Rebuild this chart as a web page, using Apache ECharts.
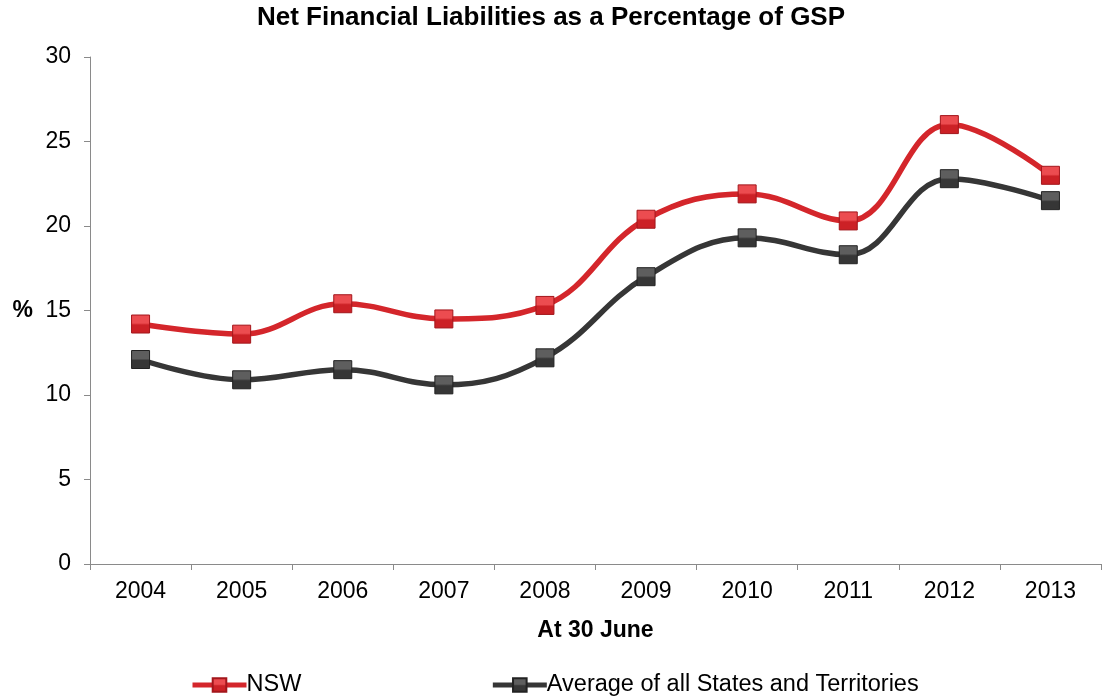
<!DOCTYPE html>
<html>
<head>
<meta charset="utf-8">
<script src="https://cdn.jsdelivr.net/npm/echarts@6/dist/echarts.min.js"></script>
<style>
  html, body { margin: 0; padding: 0; background: #ffffff; }
  #chart { width: 1106px; height: 696px; }
</style>
</head>
<body>
<div id="chart"></div>
<script>
// Net financial liabilities as % of GSP, at 30 June
const years = ['2004', '2005', '2006', '2007', '2008', '2009', '2010', '2011', '2012', '2013'];
const nswValues = [14.2, 13.6, 15.4, 14.5, 15.3, 20.4, 21.9, 20.3, 26.0, 23.0];
const averageValues = [12.1, 10.9, 11.5, 10.6, 12.2, 17.0, 19.3, 18.3, 22.8, 21.5];
const seriesNames = ['NSW', 'Average of all States and Territories'];

const FONT = '"Liberation Sans", Arial, sans-serif';

// square markers with a lighter upper half for a bevelled look
function bevel(top, bottom) {
  return new echarts.graphic.LinearGradient(0, 0, 0, 1, [
    { offset: 0, color: top },
    { offset: 0.45, color: top },
    { offset: 0.55, color: bottom },
    { offset: 1, color: bottom }
  ]);
}

const chart = echarts.init(document.getElementById('chart'), null, { renderer: 'canvas' });

chart.setOption({
  animation: false,
  backgroundColor: '#ffffff',
  title: {
    text: 'Net Financial Liabilities as a Percentage of GSP',
    left: 546,
    textAlign: 'center',
    top: 0,
    textStyle: { fontFamily: FONT, fontSize: 26, fontWeight: 'bold', color: '#000000' }
  },
  grid: { left: 90, right: 5, top: 57, bottom: 132, containLabel: false },
  legend: {
    top: 668,
    left: 185,
    itemWidth: 54,
    itemHeight: 17,
    itemGap: 189,
    lineStyle: { width: 5 },
    textStyle: { fontFamily: FONT, fontSize: 23.5, color: '#000000', padding: [0, 0, 0, -5] },
    data: seriesNames
  },
  xAxis: {
    type: 'category',
    data: years,
    boundaryGap: true,
    name: 'At 30 June',
    nameLocation: 'middle',
    nameGap: 55,
    nameTextStyle: { fontFamily: FONT, fontSize: 23, fontWeight: 'bold', color: '#000000' },
    axisLine: { lineStyle: { color: '#8a8a8a', width: 1 } },
    axisTick: { show: true, alignWithLabel: false, length: 6, lineStyle: { color: '#8a8a8a' } },
    axisLabel: { fontFamily: FONT, fontSize: 23, color: '#000000', margin: 16 },
    splitLine: { show: false }
  },
  yAxis: {
    type: 'value',
    min: 0,
    max: 30,
    interval: 5,
    name: '%',
    nameLocation: 'middle',
    nameRotate: 0,
    nameGap: 57,
    nameTextStyle: { fontFamily: FONT, fontSize: 23, fontWeight: 'bold', color: '#000000' },
    axisLine: { show: true, lineStyle: { color: '#8a8a8a', width: 1 } },
    axisTick: { show: true, length: 6, lineStyle: { color: '#8a8a8a' } },
    axisLabel: { fontFamily: FONT, fontSize: 23, color: '#000000', margin: 19 },
    splitLine: { show: false }
  },
  series: [
    {
      name: seriesNames[0],
      type: 'line',
      data: nswValues,
      smooth: 0.4,
      symbol: 'rect',
      symbolSize: 18,
      lineStyle: { color: '#d4262b', width: 5.5 },
      itemStyle: { color: bevel('#ec4c50', '#cc2126'), borderColor: '#a3161b', borderWidth: 1 },
      z: 3
    },
    {
      name: seriesNames[1],
      type: 'line',
      data: averageValues,
      smooth: 0.4,
      symbol: 'rect',
      symbolSize: 18,
      lineStyle: { color: '#363636', width: 5.5 },
      itemStyle: { color: bevel('#5e5e5e', '#363636'), borderColor: '#222222', borderWidth: 1 },
      z: 2
    }
  ]
});
</script>
</body>
</html>
